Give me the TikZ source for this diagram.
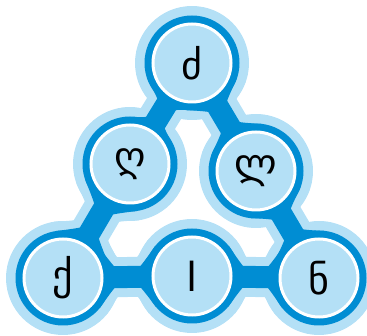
\documentclass[tikz,border=0pt]{standalone}
\usepackage{fontspec}
\setmainfont{DejaVu Sans}
\usetikzlibrary{backgrounds,calc}
\definecolor{halo}{RGB}{180,224,246}
\definecolor{band}{RGB}{0,141,211}
\tikzset{
  disc/.style={circle, fill=halo, draw=white, line width=3pt, minimum size=78pt,
    inner sep=0pt, font=\fontsize{40}{40}\selectfont},
  glow/.style={halo, line width=40pt, line join=round},
  pipe/.style={band, line width=22pt, line join=round}
}
\begin{document}
\begin{tikzpicture}[x=1pt, y=-1pt]
    \useasboundingbox (0,0) rectangle (367,336);
    \node[disc] (t) at (192,63) {ძ};
    \node[disc] (ml) at (130,164) {ღ};
    \node[disc] (mr) at (256,171) {ლ};
    \node[disc] (bl) at (63,278) {ქ};
    \node[disc] (bm) at (192,276) {l};
    \node[disc] (br) at (319,278) {ნ};
    \begin{scope}[on background layer]
      % light rim: discs, links and their fillets
      \foreach \n in {t,ml,mr,bl,bm,br} \fill[halo] (\n.center) circle (57);
      \draw[glow] (t.center) -- (ml.center) -- (bl.center) -- (bm.center) -- (br.center) -- (mr.center) -- cycle;
      \foreach \a/\b in {t/ml,ml/bl,bl/bm,bm/br,br/mr,mr/t}
        \fill[halo] ($(\a.center)!57pt!40:(\b.center)$)
          .. controls ($(\a.center)!0.5!(\b.center)!3pt!90:(\b.center)$) .. ($(\b.center)!57pt!-40:(\a.center)$)
          -- ($(\b.center)!57pt!40:(\a.center)$)
          .. controls ($(\a.center)!0.5!(\b.center)!3pt!-90:(\b.center)$) .. ($(\a.center)!57pt!-40:(\b.center)$)
          -- cycle;
      % dark ring, links and their fillets
      \foreach \n in {t,ml,mr,bl,bm,br} \fill[band] (\n.center) circle (47.5);
      \draw[pipe] (t.center) -- (ml.center) -- (bl.center) -- (bm.center) -- (br.center) -- (mr.center) -- cycle;
      \foreach \a/\b in {t/ml,ml/bl,bl/bm,bm/br,br/mr,mr/t}
        \fill[band] ($(\a.center)!47.5pt!40:(\b.center)$)
          .. controls ($(\a.center)!0.5!(\b.center)!8pt!-90:(\b.center)$) .. ($(\b.center)!47.5pt!-40:(\a.center)$)
          -- ($(\b.center)!47.5pt!40:(\a.center)$)
          .. controls ($(\a.center)!0.5!(\b.center)!8pt!90:(\b.center)$) .. ($(\a.center)!47.5pt!-40:(\b.center)$)
          -- cycle;
    \end{scope}
\end{tikzpicture}
\end{document}
